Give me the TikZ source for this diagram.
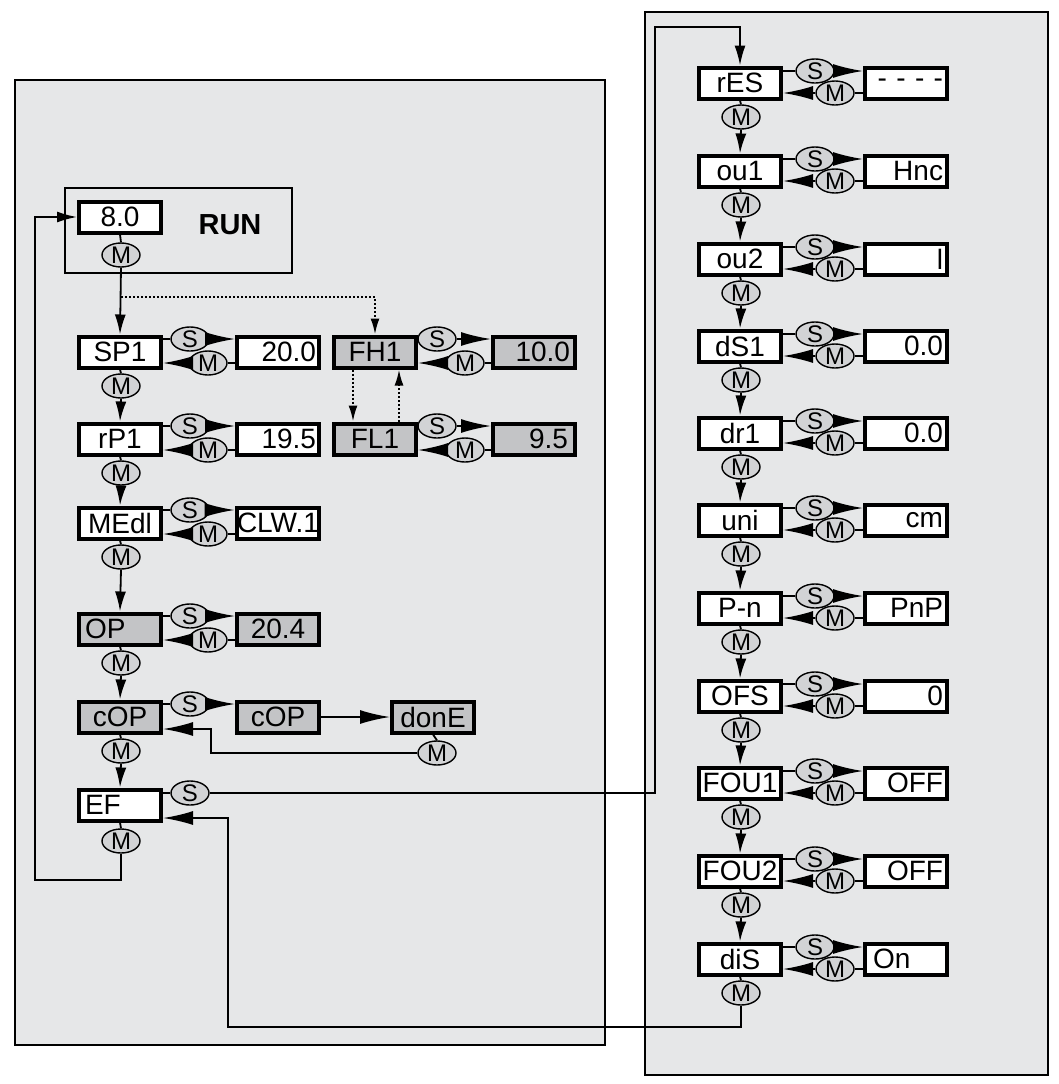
\documentclass[tikz,border=0pt]{standalone}
\usepackage{fontspec}
\setmainfont{Liberation Sans}
\usetikzlibrary{arrows.meta,shapes.geometric}
\definecolor{bg}{HTML}{E6E7E8}
\definecolor{bx}{HTML}{C3C4C6}
\definecolor{el}{HTML}{D2D3D5}
\begin{document}
\begin{tikzpicture}[x=1pt,y=-1pt,
  box/.style={draw,line width=4pt,minimum width=82pt,minimum height=31pt,inner sep=0.5pt,fill=white,font=\fontsize{28}{28}\selectfont},
  gbox/.style={box,fill=bx},
  el/.style={draw,ellipse,line width=1.4pt,fill=el,minimum width=38pt,minimum height=24pt,inner sep=0pt,font=\fontsize{24}{24}\selectfont},
  ln/.style={line width=1.8pt},
  wd/.style={line width=1.8pt,-{Latex[length=30pt,width=14pt]}},
  vw/.style={line width=1.8pt,-{Latex[length=20pt,width=11pt]}},
  dt/.style={line width=2pt,dotted,-{Latex[length=16pt,width=9pt]}},
  pan/.style={draw,line width=1.6pt,fill=bg}]
\useasboundingbox (0,0) rectangle (1059,1084);
\fill[white] (0,0) rectangle (1059,1084);
\draw[pan] (15,80) rectangle (605,1045);
\draw[pan] (645,12) rectangle (1048,1075);
\draw[line width=1.6pt] (65,188) rectangle (292,273);
\node[font=\bfseries\fontsize{29}{29}\selectfont] (run) at (230,225) {RUN};
\node[box] (n80) at (120,217) {8.0};
\node[el] (m80) at (121,255) {M};
\draw[ln] (n80.south) -- (m80.north);
% left column
\newcommand\mrow[6]{% name, label, y, style, value, valstyle
  \node[#4] (#1) at (120,#3) {#2};
  \node[#6] (#1v) at (278,#3) {#5};
  \node[el] (#1s) at (190,#3-13) {S};
  \node[el] (#1m) at (208,#3+11) {M};
  \node[el] (#1d) at (121,#3+34) {M};
  \draw[ln] (#1s.west) -- (#1s.west -| #1.east);
  \draw[wd] (#1s.east) -- (#1s.east -| #1v.west);
  \draw[ln] (#1m.east) -- (#1m.east -| #1v.west);
  \draw[wd] (#1m.west) -- (#1m.west -| #1.east);
  \draw[ln] (#1.south) -- (#1d.north);}
\mrow{sp}{SP1}{352}{box}{\hfill20.0}{box,text width=76pt,align=right}
\mrow{rp}{rP1}{439}{box}{\hfill19.5}{box,text width=76pt,align=right}
\mrow{me}{MEdl}{523}{box}{CLW.1}{box}
\mrow{op}{OP}{629}{gbox,text width=70pt,align=left}{20.4}{gbox}
% FH1 / FL1
\node[gbox] (fh) at (375,352) {FH1};
\node[gbox] (fl) at (375,439) {FL1};
\node[gbox,text width=72pt,align=right] (fhv) at (534,352) {10.0};
\node[gbox,text width=68pt,align=right] (flv) at (534,439) {9.5};
\foreach \a/\y in {fh/352,fl/439}{
  \node[el] (\a s) at (437,\y-13) {S};
  \node[el] (\a m) at (465,\y+11) {M};
  \draw[ln] (\a s.west) -- (\a s.west -| \a.east);
  \draw[wd] (\a s.east) -- (\a s.east -| \a v.west);
  \draw[ln] (\a m.east) -- (\a m.east -| \a v.west);
  \draw[wd] (\a m.west) -- (\a m.west -| \a.east);}
\draw[dt] ([xshift=-22pt]fh.south) -- ([xshift=-22pt]fl.north);
\draw[dt] ([xshift=24pt]fl.north) -- ([xshift=24pt]fh.south);
\coordinate (dj) at (121,297);
\draw[dt] (dj) -- (dj -| fh.north) -- (fh.north);
\draw[vw] (m80.south) -- (sp.north);
\draw[vw] (spd.south) -- (rp.north);
\draw[vw] (rpd.south) -- (me.north);
\draw[vw] (med.south) -- (op.north);
% cOP row
\node[gbox] (cop) at (120,717) {cOP};
\node[gbox] (copv) at (278,717) {cOP};
\node[gbox] (done) at (433,717) {donE};
\node[el] (cops) at (190,704) {S};
\node[el] (donem) at (437,753) {M};
\node[el] (copd) at (121,751) {M};
\draw[ln] (cops.west) -- (cops.west -| cop.east);
\draw[wd] (cops.east) -- (cops.east -| copv.west);
\draw[wd] (copv.east) -- (done.west);
\draw[ln] (done.south) -- (donem.north);
\coordinate (cb) at (211,729);
\draw[wd] (donem.west) -- (donem.west -| cb) -- (cb) -- (cb -| cop.east);
\draw[ln] (cop.south) -- (copd.north);
\draw[vw] (opd.south) -- (cop.north);
% EF
\node[box,text width=70pt,align=left] (ef) at (120,805) {EF};
\node[el] (efs) at (190,793) {S};
\node[el] (efd) at (121,841) {M};
\draw[ln] (efs.west) -- (efs.west -| ef.east);
\draw[ln] (ef.south) -- (efd.north);
\draw[vw] (copd.south) -- (ef.north);
\coordinate (lb) at (35,880);
\draw[vw] (efd.south) -- (efd.south |- lb) -- (lb) -- (lb |- n80.west) -- (n80.west);
% right column
\newcommand\rrow[4]{% name,label,y,value
  \node[box] (#1) at (740,#3) {#2};
  \node[box,text width=74pt,align=right] (#1v) at (906,#3) {#4};
  \node[el] (#1s) at (815,#3-12) {S};
  \node[el] (#1m) at (835,#3+10) {M};
  \node[el] (#1d) at (741,#3+34) {M};
  \draw[ln] (#1s.west) -- (#1s.west -| #1.east);
  \draw[wd] (#1s.east) -- (#1s.east -| #1v.west);
  \draw[ln] (#1m.east) -- (#1m.east -| #1v.west);
  \draw[wd] (#1m.west) -- (#1m.west -| #1.east);
  \draw[ln] (#1.south) -- (#1d.north);}
\rrow{r1}{rES}{83}{- - - -}
\rrow{r2}{ou1}{171}{Hnc\hspace*{4pt}}
\rrow{r3}{ou2}{259}{l\hspace*{30pt}}
\rrow{r4}{dS1}{346}{0.0}
\rrow{r5}{dr1}{433}{0.0}
\rrow{r6}{uni}{520}{cm\hspace*{12pt}}
\rrow{r7}{P-n}{608}{PnP}
\rrow{r8}{OFS}{696}{0}
\rrow{r9}{FOU1}{783}{OFF}
\rrow{r10}{FOU2}{871}{OFF}
\rrow{r11}{diS}{959}{\hfill\makebox[70pt][l]{On}}
\foreach \i [evaluate=\i as \j using int(\i+1)] in {1,...,10}
  \draw[vw] (r\i d.south) -- (r\j.north);
\coordinate (tr) at (655,27);
\draw[vw] (efs.east) -- (efs.east -| tr) -- (tr) -- (tr -| r1.north) -- (r1.north);
\coordinate (bl) at (228,1027);
\draw[wd] (r11d.south) -- (r11d.south |- bl) -- (bl) -- (bl |- 0,818) -- (ef.east |- 0,818);
\end{tikzpicture}
\end{document}
